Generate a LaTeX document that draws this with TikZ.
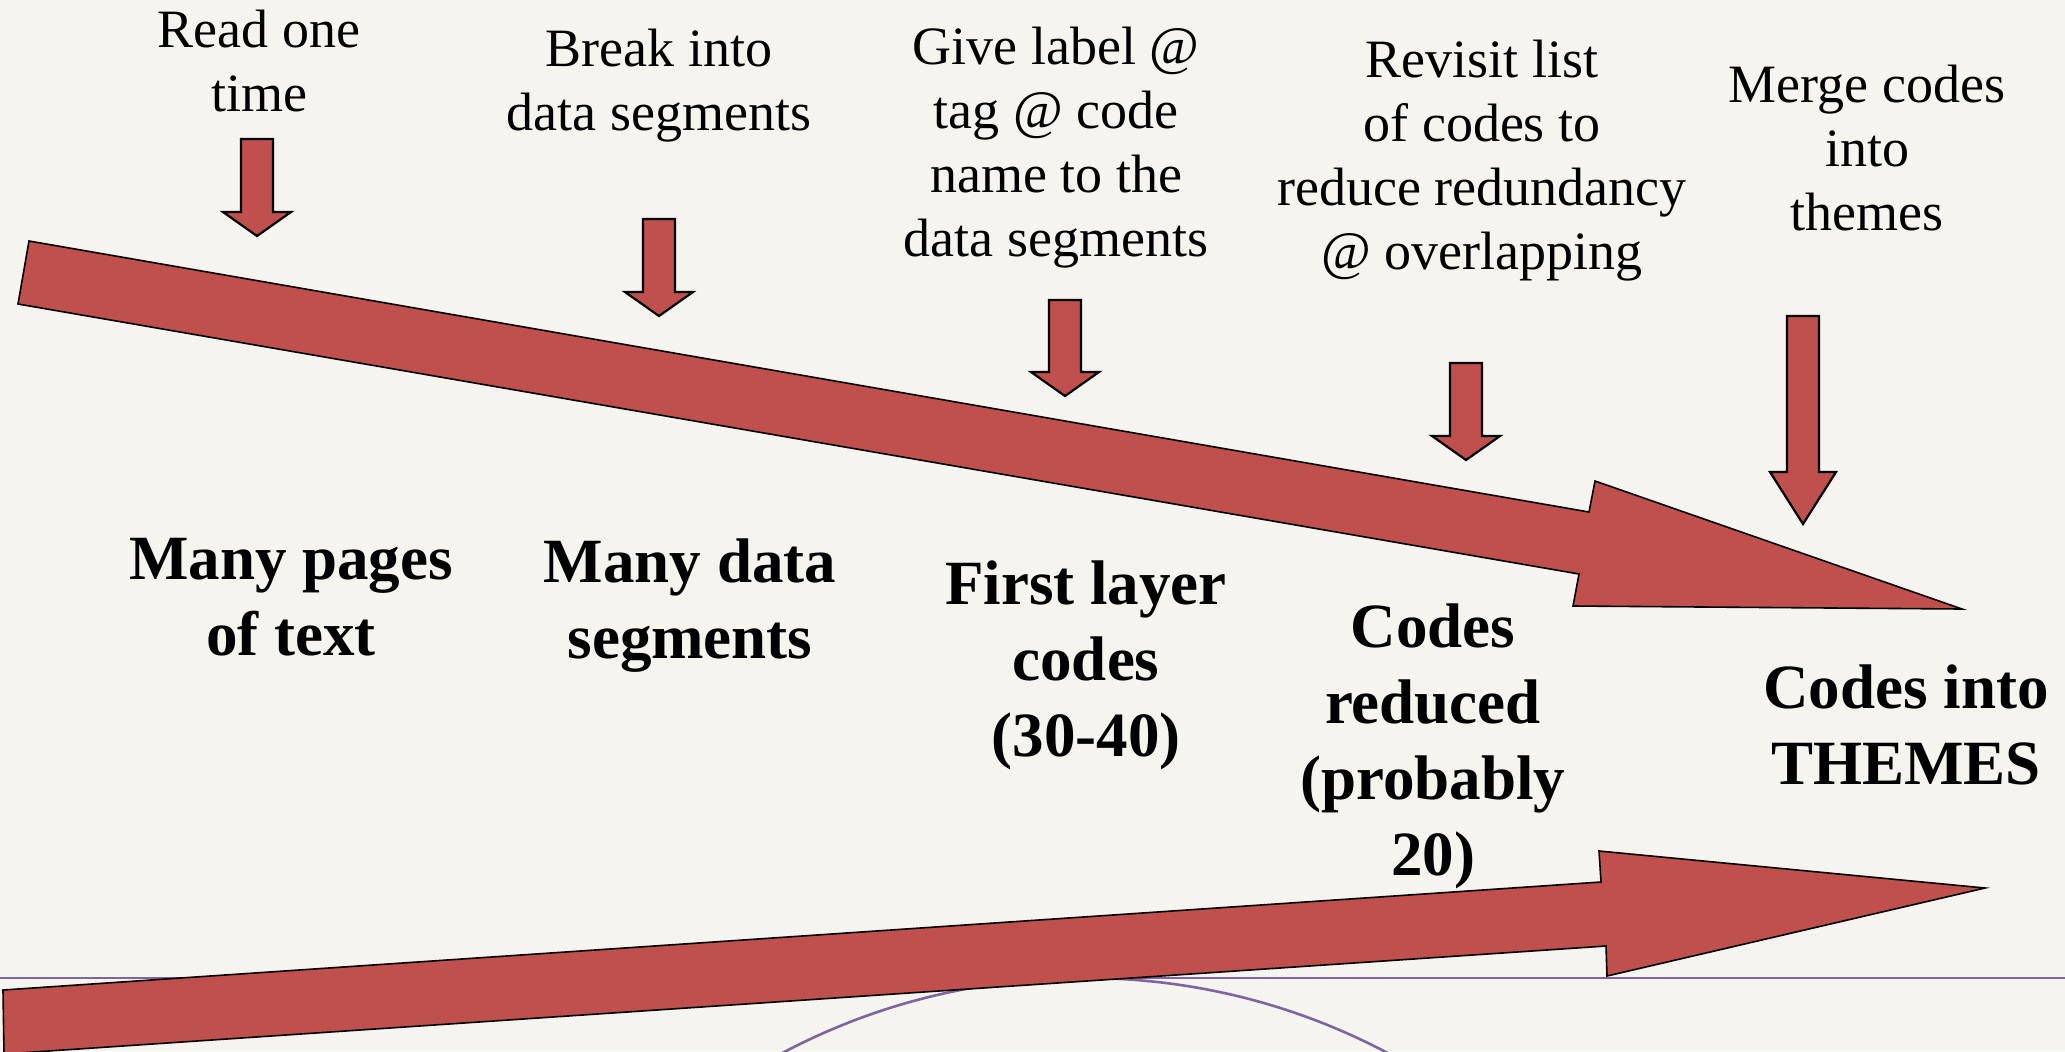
\documentclass[tikz,border=0pt]{standalone}
\usepackage{fontspec}
\setmainfont{Liberation Serif}
\definecolor{bg}{HTML}{F5F4EE}
\definecolor{blockred}{HTML}{C0504D}
\definecolor{linepurple}{HTML}{8064A2}
\tikzset{
  stepnote/.style={font=\fontsize{27pt}{32pt}\selectfont, align=center, anchor=north, inner sep=0pt},
  stagelabel/.style={font=\fontsize{31.5pt}{38pt}\selectfont\bfseries, align=center, anchor=north, inner sep=0pt},
  bigarrow/.style={fill=blockred, draw=black, line width=0.8pt, line join=miter},
  smallarrow/.style={fill=blockred, draw=black, line width=1.1pt, line join=miter},
  guide/.style={draw=linepurple, line width=1.3pt}
}
% #1 centre x, #2 top, #3 barb y, #4 tip y, #5 shaft half width, #6 barb half width
\newcommand{\blockdown}[6]{%
  \draw[smallarrow] (#1-#5,#2) -- (#1+#5,#2) -- (#1+#5,#3) -- (#1+#6,#3) -- (#1,#4)
    -- (#1-#6,#3) -- (#1-#5,#3) -- cycle;}
\begin{document}
\begin{tikzpicture}[x=0.5pt,y=-0.5pt]
\useasboundingbox (0,0) rectangle (2065,1051);
\fill[bg] (0,0) rectangle (2065,1051);
\clip (0,0) rectangle (2065,1051);

% purple guide line and arc
\draw[guide] (0,978) -- (2065,978);
\draw[guide] (1085,1625) circle[radius=647];

% big block arrows
\draw[bigarrow] (29,241) -- (1589,512) -- (1595,481) -- (1962,609) -- (1573,606)
  -- (1579,574) -- (18,304) -- cycle;
\draw[bigarrow] (3,990) -- (1601,882) -- (1599,851) -- (1985,888) -- (1607,976)
  -- (1606,946) -- (4,1054) -- cycle;

% small down arrows
\blockdown{257}{139}{212}{236}{16}{34}
\blockdown{659}{219}{292}{316}{16}{34}
\blockdown{1065}{300}{372}{396}{16}{34}
\blockdown{1466}{363}{436}{460}{16}{34}
\blockdown{1803}{316}{472}{524}{16}{33}

% step notes
\node[stepnote] (read) at (259,10) {Read one\\time};
\node[stepnote] (break) at (659,29) {Break into\\data segments};
\node[stepnote] (give) at (1056,27) {Give label @\\tag @ code\\name to the\\data segments};
\node[stepnote] (revisit) at (1482,40) {Revisit list\\of codes to\\reduce redundancy\\@ overlapping};
\node[stepnote] (merge) at (1867,65) {Merge codes\\into\\themes};

% stage labels
\node[stagelabel] (pages) at (291,538) {Many pages\\of text};
\node[stagelabel] (segs) at (690,538) {Many data\\segments};
\node[stagelabel] (first) at (1086,560) {First layer\\codes\\(30-40)};
\node[stagelabel] (reduced) at (1433,603) {Codes\\reduced\\(probably\\20)};
\node[stagelabel] (themes) at (1906,664) {Codes into\\THEMES};
\end{tikzpicture}
\end{document}
